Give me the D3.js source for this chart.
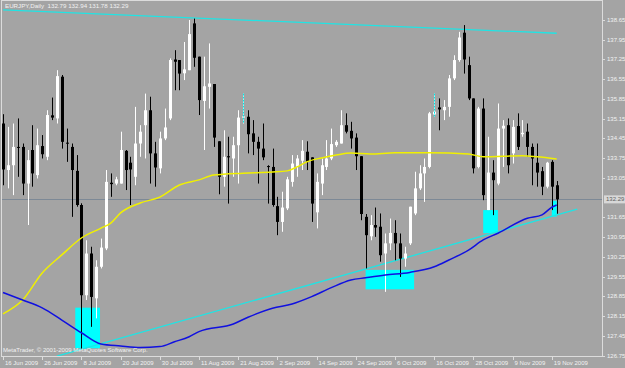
<!DOCTYPE html>
<html><head><meta charset="utf-8">
<script src="https://cdnjs.cloudflare.com/ajax/libs/d3/7.8.5/d3.min.js"></script>
<style>html,body{margin:0;padding:0;background:#a4a4a4;} svg{display:block}</style>
</head><body><svg id="c" width="625" height="368"></svg>
<script>
const title = "EURJPY,Daily  132.79 132.94 131.78 132.29";
const copyright = "MetaTrader, © 2001-2009 MetaQuotes Software Corp.";
const dateLabels = ["16 Jun 2009","26 Jun 2009","8 Jul 2009","20 Jul 2009","30 Jul 2009","11 Aug 2009","21 Aug 2009","2 Sep 2009","14 Sep 2009","24 Sep 2009","6 Oct 2009","16 Oct 2009","28 Oct 2009","9 Nov 2009","19 Nov 2009"];
const dateIdx = [0,8,16,24,32,40,48,56,64,72,80,88,96,104,112];
const priceTicks = [126.75,127.45,128.15,128.85,129.55,130.25,130.95,131.65,132.35,133.05,133.75,134.45,135.15,135.85,136.55,137.25,137.95,138.65];

const open  = [134.98,133.33,133.50,134.15,134.15,132.85,134.04,133.15,134.18,133.80,135.27,135.16,136.64,134.30,134.15,133.30,132.09,128.89,130.37,128.78,129.90,130.55,132.88,132.85,132.85,134.01,133.59,133.09,134.27,134.92,135.45,133.92,133.39,134.45,135.16,137.25,137.23,136.76,136.87,138.53,137.35,135.78,136.28,136.38,134.35,133.09,133.82,133.74,134.21,135.19,135.22,134.63,134.33,134.09,133.47,133.44,132.05,131.49,131.97,132.91,133.44,133.66,133.98,133.78,131.83,132.85,133.44,133.74,134.21,134.27,134.92,134.72,134.48,133.82,131.67,130.98,131.38,131.32,130.37,130.73,131.10,130.73,130.19,130.73,131.79,132.68,133.21,133.44,135.30,135.55,135.45,135.57,136.58,137.23,138.20,137.05,135.87,133.44,135.51,131.91,133.24,132.85,134.80,134.92,133.92,134.89,134.60,134.69,134.15,133.59,133.29,132.74,133.62,132.79];
const high  = [135.31,134.86,134.98,135.16,134.27,134.04,134.92,134.80,134.57,135.45,135.90,136.87,136.70,134.80,134.27,133.86,132.15,130.84,130.61,130.13,130.90,133.33,133.21,133.09,134.69,134.04,133.80,135.57,134.92,136.04,135.93,134.33,134.69,135.51,137.29,137.58,137.23,137.87,138.65,138.70,137.35,137.35,137.82,136.38,134.35,134.74,134.51,134.51,135.45,136.04,135.45,135.10,134.51,134.98,133.50,134.09,132.38,132.56,133.09,133.86,133.86,134.39,134.35,133.78,133.21,133.74,134.39,134.80,134.39,135.45,135.34,135.04,134.63,133.82,131.77,131.73,132.00,131.79,131.08,131.61,131.55,131.08,130.61,132.03,133.27,133.50,133.74,135.39,136.04,135.87,135.81,136.70,137.40,138.23,138.47,137.35,135.87,135.57,135.87,134.51,133.68,135.69,135.10,135.16,135.10,135.34,135.10,134.98,134.27,134.27,133.44,133.62,133.68,132.94];
const low   = [132.79,132.68,132.44,133.09,132.44,131.38,132.74,133.03,133.74,133.68,135.10,134.98,134.09,133.62,131.67,132.03,127.00,128.72,127.77,128.07,129.84,130.49,132.38,132.79,132.85,132.62,132.09,132.79,133.80,133.74,132.85,132.74,133.21,134.39,135.10,136.16,136.16,136.52,136.87,136.99,135.28,134.04,135.51,134.15,132.47,132.74,132.14,133.09,132.85,134.98,133.92,133.86,132.85,133.68,132.14,132.03,131.02,131.14,131.91,132.74,133.09,133.33,133.33,131.49,131.26,132.44,133.33,133.68,134.15,134.27,134.63,134.09,133.33,131.55,129.84,130.84,130.96,130.08,129.01,130.49,130.13,129.54,129.90,130.67,131.73,132.62,132.20,133.39,135.22,134.74,135.10,135.22,136.52,137.17,136.75,135.81,133.21,133.39,132.26,131.91,131.73,132.79,133.44,133.21,133.56,134.04,134.51,133.80,132.79,132.74,132.44,132.68,131.91,131.78];
const close = [133.35,133.50,134.15,134.13,132.85,133.68,133.21,134.21,133.89,135.28,135.19,136.66,134.33,134.27,133.33,132.09,128.89,130.37,128.83,129.90,130.58,132.91,132.83,133.00,134.04,133.33,133.35,134.27,134.69,135.45,133.92,133.42,134.45,134.84,137.23,137.17,136.75,136.90,138.15,137.31,135.81,136.30,136.40,134.48,133.09,133.80,133.78,134.21,135.19,135.23,134.60,134.33,134.09,133.78,133.44,132.09,131.49,132.00,133.00,133.56,133.74,134.01,133.62,132.14,132.91,133.50,133.74,134.25,134.33,134.92,134.69,134.45,133.82,131.77,131.02,131.38,131.29,130.31,130.73,131.10,130.73,130.19,130.37,132.03,132.68,133.21,133.44,135.34,135.40,135.48,135.57,136.58,137.23,138.03,137.25,135.87,133.39,135.51,132.44,133.24,132.97,134.80,134.90,133.50,134.86,134.15,134.65,134.15,133.74,133.24,132.74,133.59,132.74,132.29];

const maYellowIdx = [0,4,8,12,16,20,22,24,28,32,36,40,43,49,55,58,60,62,65,68,71,75,80,87,95,98,106,109,113];
const maYellow    = [128.23,128.72,129.68,130.32,130.92,131.27,131.45,131.81,132.16,132.37,132.80,132.98,133.15,133.22,133.26,133.30,133.44,133.62,133.76,133.86,133.93,133.90,133.94,133.94,133.90,133.80,133.84,133.80,133.72];
const maBlueIdx = [0,4,8,12,16,20,24,28,32,35,38,40,47,50,55,59,63,67,71,74,78,83,88,91,95,98,101,107,110,112,113];
const maBlue    = [128.99,128.72,128.44,128.01,127.56,127.16,127.09,127.04,127.07,127.24,127.42,127.60,127.87,128.11,128.43,128.58,128.84,129.16,129.43,129.51,129.61,129.70,129.90,130.14,130.49,130.85,131.09,131.62,131.74,132.01,132.09];

const resIdx = [0,113], resPrice = [139.01,138.18];
const supIdx = [11,117.2], supPrice = [126.73,131.94];
const boxFrom = [14.75,74,98,112], boxTo = [19.8,83.9,101,113];
const boxTop = [128.45,129.79,131.91,132.24], boxBottom = [127.01,129.10,131.09,131.68];
const markIdx = [49,88], markHigh = [136.04,136.04], markLow = [134.98,135.22];
const bid = 132.29;

const svg = d3.select("#c");
const L = 2, R = 602, T = 1, B = 356;
const x = d3.scaleLinear().domain([0,113]).range([3,556.7]);
const y = d3.scaleLinear().domain([126.75,138.65]).range([355.6,20]);
const font = "'Liberation Sans', Arial, sans-serif";
const txt = "#f2f2f2";

svg.append("rect").attr("width",625).attr("height",368).attr("fill","#a4a4a4");
svg.append("defs").append("clipPath").attr("id","pc").append("rect")
  .attr("x",L).attr("y",T).attr("width",R-L).attr("height",B-T);
const g = svg.append("g").attr("clip-path","url(#pc)");

// bid line
g.append("line").attr("x1",L).attr("x2",R).attr("y1",Math.round(y(bid))+0.5).attr("y2",Math.round(y(bid))+0.5)
  .attr("stroke","#7d8996").attr("stroke-width",1);

// cyan boxes
g.selectAll("rect.box").data(boxFrom).join("rect").attr("class","box")
  .attr("x",(d,i)=>x(d)).attr("width",(d,i)=>x(boxTo[i])-x(d))
  .attr("y",(d,i)=>y(boxTop[i])).attr("height",(d,i)=>y(boxBottom[i])-y(boxTop[i]))
  .attr("fill","#00ffff");

// trend lines
const tl = d3.line().x(d=>x(d[0])).y(d=>y(d[1]));
g.append("path").attr("d",tl(resIdx.map((d,i)=>[d,resPrice[i]]))).attr("stroke","#20e4e4").attr("stroke-width",1.3).attr("fill","none");
g.append("path").attr("d",tl(supIdx.map((d,i)=>[d,supPrice[i]]))).attr("stroke","#20e4e4").attr("stroke-width",1.3).attr("fill","none");

// candles
const idx = d3.range(open.length);
const cg = g.append("g");
cg.selectAll("line.w").data(idx).join("line").attr("class","w")
  .attr("x1",i=>Math.round(x(i))+0.5).attr("x2",i=>Math.round(x(i))+0.5)
  .attr("y1",i=>y(high[i])).attr("y2",i=>y(low[i]))
  .attr("stroke",i=>close[i]>=open[i]?"#ffffff":"#000000").attr("stroke-width",1);
cg.selectAll("rect.b").data(idx).join("rect").attr("class","b")
  .attr("x",i=>Math.round(x(i))-1).attr("width",3)
  .attr("y",i=>y(Math.max(open[i],close[i])))
  .attr("height",i=>Math.max(1,y(Math.min(open[i],close[i]))-y(Math.max(open[i],close[i]))))
  .attr("fill",i=>close[i]>=open[i]?"#ffffff":"#000000");

// markers
g.selectAll("line.m").data(markIdx).join("line").attr("class","m")
  .attr("x1",d=>Math.round(x(d))+0.5).attr("x2",d=>Math.round(x(d))+0.5)
  .attr("y1",(d,i)=>y(markHigh[i])).attr("y2",(d,i)=>y(markLow[i]))
  .attr("stroke","#00e8e8").attr("stroke-width",1).attr("stroke-dasharray","2,1");

// moving averages
const ml = d3.line().x(d=>x(d[0])).y(d=>y(d[1])).curve(d3.curveMonotoneX);
g.append("path").attr("d",ml(maYellowIdx.map((d,i)=>[d,maYellow[i]]))).attr("stroke","#f0f000").attr("stroke-width",1.5).attr("fill","none");
g.append("path").attr("d",ml(maBlueIdx.map((d,i)=>[d,maBlue[i]]))).attr("stroke","#1010e0").attr("stroke-width",1.5).attr("fill","none");

// frame
svg.append("rect").attr("x",L-0.5).attr("y",T-0.5).attr("width",R-L+1).attr("height",B-T+1)
  .attr("fill","none").attr("stroke","#dcdcdc").attr("stroke-width",1);

// price axis
const pt = priceTicks.filter(p=>Math.abs(y(p)-y(bid))>6);
svg.selectAll("line.pt").data(pt).join("line").attr("class","pt")
  .attr("x1",R).attr("x2",R+3).attr("y1",d=>Math.round(y(d))+0.5).attr("y2",d=>Math.round(y(d))+0.5)
  .attr("stroke","#dcdcdc");
svg.selectAll("text.pt").data(pt).join("text").attr("class","pt")
  .attr("x",R+5).attr("y",d=>y(d)+2).text(d=>d.toFixed(2))
  .attr("font-family",font).attr("font-size",6).attr("fill",txt);
svg.append("rect").attr("x",R+2).attr("y",y(bid)-4).attr("width",21).attr("height",8).attr("fill","#d8d8d8");
svg.append("text").attr("x",R+4).attr("y",y(bid)+2).text(bid.toFixed(2))
  .attr("font-family",font).attr("font-size",6).attr("fill","#606060");

// date axis
svg.selectAll("line.dt").data(dateIdx).join("line").attr("class","dt")
  .attr("x1",d=>Math.round(x(d))+0.5).attr("x2",d=>Math.round(x(d))+0.5).attr("y1",B).attr("y2",B+4)
  .attr("stroke","#dcdcdc");
svg.selectAll("text.dt").data(dateIdx).join("text").attr("class","dt")
  .attr("x",d=>x(d)+2).attr("y",365).text((d,i)=>dateLabels[i])
  .attr("font-family",font).attr("font-size",6).attr("fill",txt);

svg.append("text").attr("x",5).attr("y",8).text(title).attr("font-family",font).attr("font-size",6.2).attr("fill",txt).style("white-space","pre");
svg.append("text").attr("x",3).attr("y",352).text(copyright).attr("font-family",font).attr("font-size",6).attr("fill",txt);
</script></body></html>
